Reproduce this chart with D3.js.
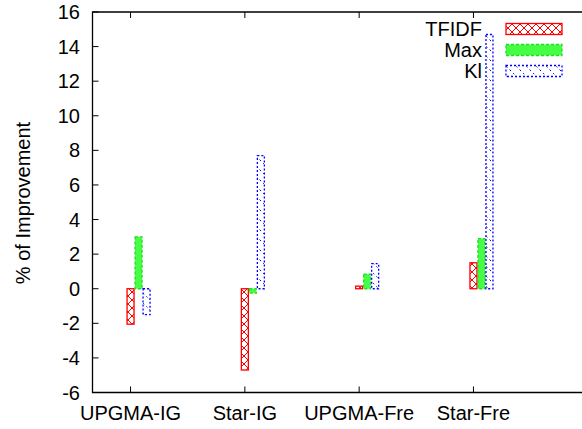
<!DOCTYPE html>
<html>
<head>
<meta charset="utf-8">
<script src="https://cdn.jsdelivr.net/npm/d3@7"></script>
<style>
  body { margin: 0; background: #fff; }
  svg { display: block; font-family: "Liberation Sans", Arial, sans-serif; }
</style>
</head>
<body>
<div id="chart"></div>
<script>
// data
var categories = ["UPGMA-IG", "Star-IG", "UPGMA-Fre", "Star-Fre"];
var series = ["TFIDF", "Max", "Kl"];
var tfidfValues = [-2.05, -4.7, 0.15, 1.5];
var maxValues = [3.0, -0.25, 0.85, 2.9];
var klValues = [-1.5, 7.7, 1.45, 14.7];
var yTicks = [-6, -4, -2, 0, 2, 4, 6, 8, 10, 12, 14, 16];

var width = 582, height = 429;
var plotLeft = 92.5, plotTop = 12, plotBottom = 392.5;

var svg = d3.select("#chart").append("svg")
  .attr("width", width)
  .attr("height", height);

var defs = svg.append("defs");

// red cross hatch
var pRed = defs.append("pattern").attr("id", "pRed")
  .attr("patternUnits", "userSpaceOnUse")
  .attr("width", 8).attr("height", 8);
pRed.append("rect").attr("width", 8).attr("height", 8).attr("fill", "#fff");
pRed.append("path").attr("d", "M0,0L8,8M8,0L0,8")
  .attr("stroke", "#ff0000").attr("stroke-width", 1);

// blue sparse dotted diagonals
var pBlue = defs.append("pattern").attr("id", "pBlue")
  .attr("patternUnits", "userSpaceOnUse")
  .attr("width", 10).attr("height", 10);
pBlue.append("rect").attr("width", 10).attr("height", 10).attr("fill", "#fff");
pBlue.append("path").attr("d", "M0,0L10,10")
  .attr("stroke", "#0000ff").attr("stroke-width", 1)
  .attr("stroke-dasharray", "1.5,3");

var styles = {
  TFIDF: { fill: "url(#pRed)", stroke: "#ff0000", dash: null },
  Max: { fill: "#44ff44", stroke: "#22dd22", dash: "3,2" },
  Kl: { fill: "url(#pBlue)", stroke: "#0000ff", dash: "2,2" }
};

var x = d3.scaleLinear().domain([0.667, 5]).range([plotLeft, plotLeft + (5 - 0.667) * 114.3]);
var y = d3.scaleLinear().domain([-6, 16]).range([plotBottom, plotTop]);
var xSub = d3.scaleBand().domain(series).range([-4, 20]);

var rows = [];
categories.forEach(function(c, i) {
  rows.push({ cat: i + 1, s: "TFIDF", v: tfidfValues[i] });
  rows.push({ cat: i + 1, s: "Max", v: maxValues[i] });
  rows.push({ cat: i + 1, s: "Kl", v: klValues[i] });
});

svg.selectAll("rect.bar")
  .data(rows)
  .enter()
  .append("rect")
  .attr("class", "bar")
  .attr("x", function(d) { return x(d.cat) + xSub(d.s) + 0.5; })
  .attr("width", xSub.bandwidth() - 1)
  .attr("y", function(d) { return y(Math.max(0, d.v)); })
  .attr("height", function(d) { return Math.abs(y(d.v) - y(0)); })
  .attr("fill", function(d) { return styles[d.s].fill; })
  .attr("stroke", function(d) { return styles[d.s].stroke; })
  .attr("stroke-width", 1.3)
  .attr("stroke-dasharray", function(d) { return styles[d.s].dash; });

// frame (right side runs off the canvas)
svg.append("path")
  .attr("d", "M600," + plotTop + "H" + plotLeft + "V" + plotBottom + "H600")
  .attr("fill", "none")
  .attr("stroke", "#000")
  .attr("stroke-width", 1.3);

// y ticks
var yAxis = svg.append("g");
yAxis.selectAll("line")
  .data(yTicks)
  .enter().append("line")
  .attr("x1", plotLeft).attr("x2", plotLeft + 6)
  .attr("y1", function(d) { return y(d); })
  .attr("y2", function(d) { return y(d); })
  .attr("stroke", "#000");
yAxis.selectAll("text")
  .data(yTicks)
  .enter().append("text")
  .attr("x", 80)
  .attr("y", function(d) { return y(d) + 7; })
  .attr("text-anchor", "end")
  .attr("font-size", 20)
  .text(function(d) { return d; });

// x ticks, mirrored on top
var xAxis = svg.append("g");
xAxis.selectAll("line.b")
  .data(categories)
  .enter().append("line")
  .attr("x1", function(d, i) { return x(i + 1); })
  .attr("x2", function(d, i) { return x(i + 1); })
  .attr("y1", plotBottom).attr("y2", plotBottom - 6)
  .attr("stroke", "#000");
xAxis.selectAll("line.t")
  .data(categories)
  .enter().append("line")
  .attr("x1", function(d, i) { return x(i + 1); })
  .attr("x2", function(d, i) { return x(i + 1); })
  .attr("y1", plotTop).attr("y2", plotTop + 6)
  .attr("stroke", "#000");
xAxis.selectAll("text")
  .data(categories)
  .enter().append("text")
  .attr("x", function(d, i) { return x(i + 1); })
  .attr("y", 420)
  .attr("text-anchor", "middle")
  .attr("font-size", 20)
  .text(function(d) { return d; });

// y label
svg.append("text")
  .attr("transform", "translate(30,203) rotate(-90)")
  .attr("text-anchor", "middle")
  .attr("font-size", 20)
  .text("% of Improvement");

// legend
var legend = svg.append("g");
series.forEach(function(s, i) {
  var ly = 29 + i * 21;
  legend.append("text")
    .attr("x", 482).attr("y", ly + 7)
    .attr("text-anchor", "end")
    .attr("font-size", 20)
    .text(s);
  legend.append("rect")
    .attr("x", 506).attr("y", ly - 5.5)
    .attr("width", 56).attr("height", 11)
    .attr("fill", styles[s].fill)
    .attr("stroke", styles[s].stroke)
    .attr("stroke-width", 1.3)
    .attr("stroke-dasharray", styles[s].dash);
});
</script>
</body>
</html>
